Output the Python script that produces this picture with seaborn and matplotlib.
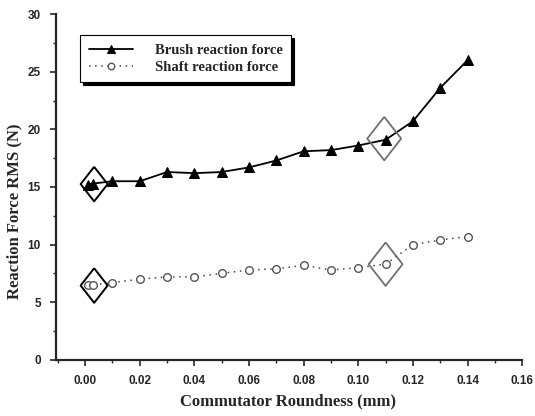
import matplotlib
matplotlib.use("Agg")
import matplotlib.pyplot as plt
from matplotlib.ticker import MultipleLocator
import seaborn as sns
import pandas as pd

# ---- data ----
roundness = [0.001, 0.003, 0.01, 0.02, 0.03, 0.04, 0.05, 0.06, 0.07,
             0.08, 0.09, 0.10, 0.11, 0.12, 0.13, 0.14]
brush_force = [15.2, 15.3, 15.5, 15.5, 16.3, 16.2, 16.3, 16.7, 17.3,
               18.1, 18.2, 18.6, 19.1, 20.7, 23.6, 26.0]
shaft_force = [6.5, 6.5, 6.7, 7.0, 7.2, 7.2, 7.5, 7.8, 7.9,
               8.2, 7.8, 8.0, 8.3, 10.0, 10.4, 10.7]
series_names = ["Brush reaction force", "Shaft reaction force"]

# highlighted points (diamond annotations)
highlight_x = [0.0033, 0.0033, 0.1095, 0.110]
highlight_y = [15.25, 6.45, 19.2, 8.3]

x_ticks = [0.00, 0.02, 0.04, 0.06, 0.08, 0.10, 0.12, 0.14, 0.16]
y_ticks = [0, 5, 10, 15, 20, 25, 30]
x_label = "Commutator Roundness (mm)"
y_label = "Reaction Force RMS (N)"

# ---- style ----
sns.set_style("ticks")
plt.rcParams["font.family"] = ["Liberation Serif", "DejaVu Serif"]

fig = plt.figure(figsize=(5.35, 4.16), dpi=100)
ax = fig.add_axes([0.105, 0.135, 0.871, 0.831])

df = pd.DataFrame({"x": roundness, "brush": brush_force, "shaft": shaft_force})

sns.lineplot(data=df, x="x", y="brush", ax=ax, color="black", lw=1.3,
             marker="^", markersize=7, markeredgecolor="black",
             markerfacecolor="black", sort=False, errorbar=None,
             label=series_names[0])
sns.lineplot(data=df, x="x", y="shaft", ax=ax, color="#444444", lw=1.1,
             linestyle=(0, (1, 3)), marker="o", markersize=5.5,
             markerfacecolor="white", markeredgecolor="#555555",
             markeredgewidth=1.0, sort=False, errorbar=None,
             label=series_names[1])

diamond = [(0, 1), (0.78, 0), (0, -1), (-0.78, 0), (0, 1)]
hl = pd.DataFrame({"x": highlight_x, "y": highlight_y})
sns.scatterplot(data=hl.iloc[:2], x="x", y="y", ax=ax, marker=diamond,
                s=620, facecolor="none", edgecolor="black", linewidth=1.4,
                zorder=5, legend=False)
sns.scatterplot(data=hl.iloc[2:], x="x", y="y", ax=ax, marker=diamond,
                s=980, facecolor="none", edgecolor="#707070", linewidth=1.3,
                zorder=5, legend=False)

ax.set_xlim(-0.0106, 0.16)
ax.set_ylim(0, 30)
ax.set_xticks(x_ticks)
ax.set_yticks(y_ticks)
ax.xaxis.set_minor_locator(MultipleLocator(0.01))
ax.yaxis.set_minor_locator(MultipleLocator(2.5))
ax.set_xticklabels([f"{v:.2f}" for v in x_ticks])
ax.set_yticklabels([str(v) for v in y_ticks])

for lab in ax.get_xticklabels() + ax.get_yticklabels():
    lab.set_family(["Liberation Sans", "DejaVu Sans"])
    lab.set_fontweight("bold")
    lab.set_fontsize(8.5)

ax.tick_params(which="major", direction="out", length=4, width=1.2)
ax.tick_params(axis="x", which="major", pad=7)
ax.tick_params(axis="y", which="major", pad=7)
ax.tick_params(which="minor", direction="out", length=2.5, width=1.0)

sns.despine(ax=ax)
for s in ["left", "bottom"]:
    ax.spines[s].set_linewidth(1.6)

ax.set_xlabel(x_label, fontsize=12, fontweight="bold", va="center")
ax.set_ylabel(y_label, fontsize=12, fontweight="bold", va="center")
ax.xaxis.set_label_coords((288 - 56) / 466, -(402 - 360) / 346)
ax.yaxis.set_label_coords((14 - 56) / 466, 1 - (211 - 14) / 346)

leg = ax.legend(loc="upper left", bbox_to_anchor=(0.052, 0.94),
                borderaxespad=0, fancybox=False,
                shadow={"color": "black", "alpha": 1},
                edgecolor="black", framealpha=1,
                prop={"family": ["Liberation Serif"], "weight": "bold", "size": 10.5},
                handlelength=3.0, handletextpad=1.5, borderpad=0.6,
                labelspacing=0.25, markerscale=0.85)
leg.get_frame().set_linewidth(0.8)

fig.savefig("out.png", dpi=100)
